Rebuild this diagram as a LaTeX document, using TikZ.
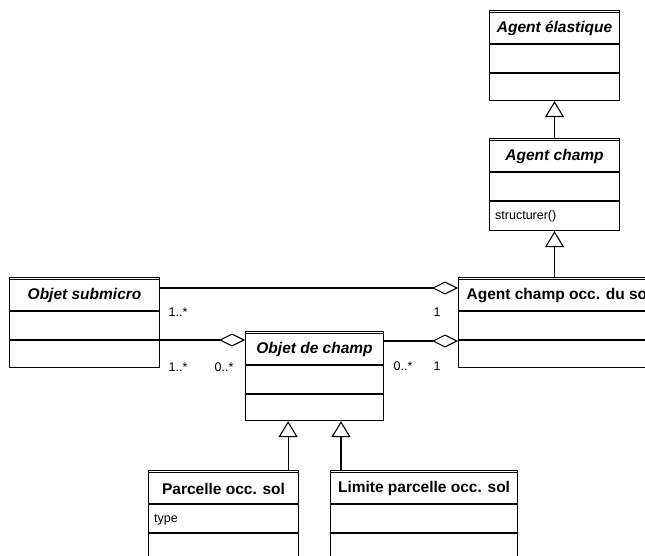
\documentclass[tikz,border=0pt]{standalone}
\usepackage{fontspec}
\setmainfont{Liberation Sans}
\usepackage{tikz}
\usetikzlibrary{arrows.meta, calc}
\newcommand{\titleH}{34}
\newcommand{\attrH}{63}
\newcommand{\umlclass}[7]{%
  \node[classbox, minimum width=#4, minimum height=#5] (#1) at (#2,#3) {};
  \node[#6] (#1-name) at ($(#1.north)+(0,18.5)$) {#7};
  \draw[line width=0.7pt] ($(#1.north west)+(0,2)$) -- ($(#1.north east)+(0,2)$);
  \draw[rule] ($(#1.north west)+(0,\titleH)$) -- ($(#1.north east)+(0,\titleH)$);
  \draw[rule] ($(#1.north west)+(0,\attrH)$) -- ($(#1.north east)+(0,\attrH)$);%
}
\tikzset{
  rule/.style={line width=1.1pt},
  classbox/.style={draw, rule, rectangle, anchor=north west, inner sep=0pt},
  concrete/.style={font=\fontsize{15.5}{18}\selectfont\bfseries, inner sep=0pt},
  abstract/.style={font=\fontsize{15.5}{18}\selectfont\bfseries\itshape, inner sep=0pt},
  member/.style={font=\fontsize{12.5}{15}\selectfont, anchor=west, inner sep=0pt},
  mult/.style={font=\fontsize{12.5}{15}\selectfont, inner sep=0pt},
  inherit/.style={rule, -{Triangle[open, length=16pt, width=19pt, line width=1.1pt]}},
  aggr/.style={rule, -{Diamond[open, length=26pt, width=13pt, line width=1.1pt]}}
}

\begin{document}
\begin{tikzpicture}[x=1pt, y=-1pt]
\useasboundingbox (0,0) rectangle (645,556);
\clip (0,0) rectangle (645,556);

% --- CLASSES ---
\umlclass{ae} {489}{10} {130}{90} {abstract}{Agent élastique}
\umlclass{ac} {489}{138}{130}{92} {abstract}{Agent champ}
\umlclass{aco}{458}{277}{201}{90} {concrete}{Agent champ occ. du sol}
\umlclass{osm}{9}  {277}{150}{90} {abstract}{Objet submicro}
\umlclass{odc}{245}{331}{138}{89} {abstract}{Objet de champ}
\umlclass{pos}{148}{470}{150}{100}{concrete}{Parcelle occ. sol}
\umlclass{lim}{330}{470}{187}{100}{concrete}{Limite parcelle occ. sol}

% members
\node[member] (ac-op)   at ($(ac.north west)+(6,78)$)  {structurer()};
\node[member] (pos-att) at ($(pos.north west)+(6,50)$) {type};

% --- GENERALISATION ---
\draw[inherit] (ac.north) -- (ae.south);
\draw[inherit] (ac.south |- aco.north) -- (ac.south);
\draw[inherit] ([xshift=-11pt]pos.north east) -- ([xshift=-11pt]pos.north east |- odc.south);
\draw[inherit] ([xshift=11pt]lim.north west) -- ([xshift=11pt]lim.north west |- odc.south);

% --- AGGREGATION ---
\draw[aggr] ([yshift=-11pt]osm.north east) -- ([yshift=-11pt]osm.north east -| aco.west);
\draw[aggr] ([yshift=-63pt]osm.north east) -- ([yshift=-63pt]osm.north east -| odc.west);
\draw[aggr] ([yshift=-10pt]odc.north east) -- ([yshift=-10pt]odc.north east -| aco.west);

% multiplicities
\node[mult] (m-osm1) at (178,312) {1..*};
\node[mult] (m-aco1) at (437,312) {1};
\node[mult] (m-osm2) at (178,367) {1..*};
\node[mult] (m-odc1) at (224,367) {0..*};
\node[mult] (m-odc2) at (403,366) {0..*};
\node[mult] (m-aco2) at (437,366) {1};

\end{tikzpicture}
\end{document}
